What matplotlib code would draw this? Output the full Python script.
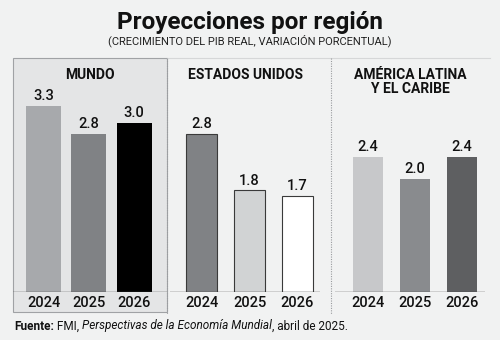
import matplotlib
matplotlib.use("Agg")
import matplotlib.pyplot as plt
from matplotlib.patches import Rectangle
from matplotlib.lines import Line2D
from matplotlib import font_manager

anios = ["2024", "2025", "2026"]
mundo = [3.3, 2.8, 3.0]
estados_unidos = [2.8, 1.8, 1.7]
america_latina = [2.4, 2.0, 2.4]

titulos = ["MUNDO", "ESTADOS UNIDOS", "AMÉRICA LATINA\nY EL CARIBE"]
colores = [
    ["#a7a9ac", "#808285", "#000000"],
    ["#808285", "#d1d3d4", "#ffffff"],
    ["#c7c8ca", "#898b8e", "#5e5f61"],
]

nombres = [f.name for f in font_manager.fontManager.ttflist]
fam = "Liberation Sans Narrow" if "Liberation Sans Narrow" in nombres else "Roboto"
plt.rcParams["font.family"] = [fam, "DejaVu Sans"]

W, H = 500, 340
fig = plt.figure(figsize=(W / 100, H / 100), dpi=100)
fig.patch.set_facecolor("#f1f2f2")


def fx(px):
    return px / W


def fy(py):
    return 1 - py / H


# caja gris del panel MUNDO, por detras de los ejes
fig.patches.append(Rectangle((fx(13), fy(312)), fx(154), (312 - 58) / H,
                             transform=fig.transFigure, facecolor="#e4e5e6",
                             edgecolor="#a0a2a5", lw=0.8, zorder=-5))
fig.lines.append(Line2D([fx(167), fx(490)], [fy(58), fy(58)],
                        transform=fig.transFigure, color="#d6d7d8", lw=0.8,
                        zorder=-4))
for xs in (167, 331):
    fig.lines.append(Line2D([fx(xs), fx(xs)], [fy(58), fy(314)],
                            transform=fig.transFigure, color="#9a9c9f",
                            lw=0.8, ls=(0, (1, 1.2)), zorder=-4))

# (izq px, der px, centro primera barra px, separacion px, ancho barra px)
paneles = [
    (13, 167, 43.5, 45.3, 35),
    (170, 320, 201.5, 48, 31),
    (335, 485, 368, 47, 30),
]
datos = [mundo, estados_unidos, america_latina]
base = 292
top = 58
escala = 56.4  # px por punto porcentual

for i, (izq, der, c0, sep, ancho) in enumerate(paneles):
    ax = fig.add_axes([fx(izq), fy(base), (der - izq) / W, (base - top) / H])
    ax.set_facecolor("none")
    ax.set_xlim(-(c0 - izq) / sep, (der - c0) / sep)
    ax.set_ylim(0, (base - top) / escala)
    edge = "#3a3a3a" if i == 1 else "none"
    ax.bar(range(3), datos[i], width=ancho / sep, color=colores[i],
           edgecolor=edge, linewidth=0.8 if i == 1 else 0, zorder=2)
    for j, v in enumerate(datos[i]):
        ax.text(j, v + 0.05, f"{v:.1f}", ha="center", va="bottom",
                fontsize=10.5, fontweight="medium", color="#111111")
    ax.axhline(0, color="#444444", lw=1.0, zorder=3)
    for s in ax.spines.values():
        s.set_visible(False)
    ax.set_yticks([])
    ax.set_xticks(range(3))
    ax.set_xticklabels(anios, fontsize=10.5, fontweight="medium",
                       color="#111111")
    ax.tick_params(axis="x", length=0, pad=3)
    ax.text(0.5, (base - 68) / (base - top), titulos[i],
            transform=ax.transAxes, ha="center", va="top",
            fontsize=10, fontweight="bold", color="#111111", linespacing=1.0)

fig.text(0.5, fy(22), "Proyecciones por región", ha="center", va="center",
         fontsize=17.5, fontweight="bold", color="#111111")
fig.text(0.5, fy(41), "(CRECIMIENTO DEL PIB REAL, VARIACIÓN PORCENTUAL)",
         ha="center", va="center", fontsize=8, color="#222222")

# pie con fuente en tres estilos
partes = [("Fuente:", "bold", "normal"), (" FMI, ", "normal", "normal"),
          ("Perspectivas de la Economía Mundial", "normal", "italic"),
          (", abril de 2025.", "normal", "normal")]
fig.canvas.draw()
r = fig.canvas.get_renderer()
x = fx(14)
for txt, peso, estilo in partes:
    t = fig.text(x, fy(326), txt, ha="left", va="center", fontsize=8.5,
                 fontweight=peso, style=estilo, color="#111111")
    bb = t.get_window_extent(renderer=r)
    x += bb.width / W

fig.savefig("out.png", dpi=100, facecolor=fig.get_facecolor())
